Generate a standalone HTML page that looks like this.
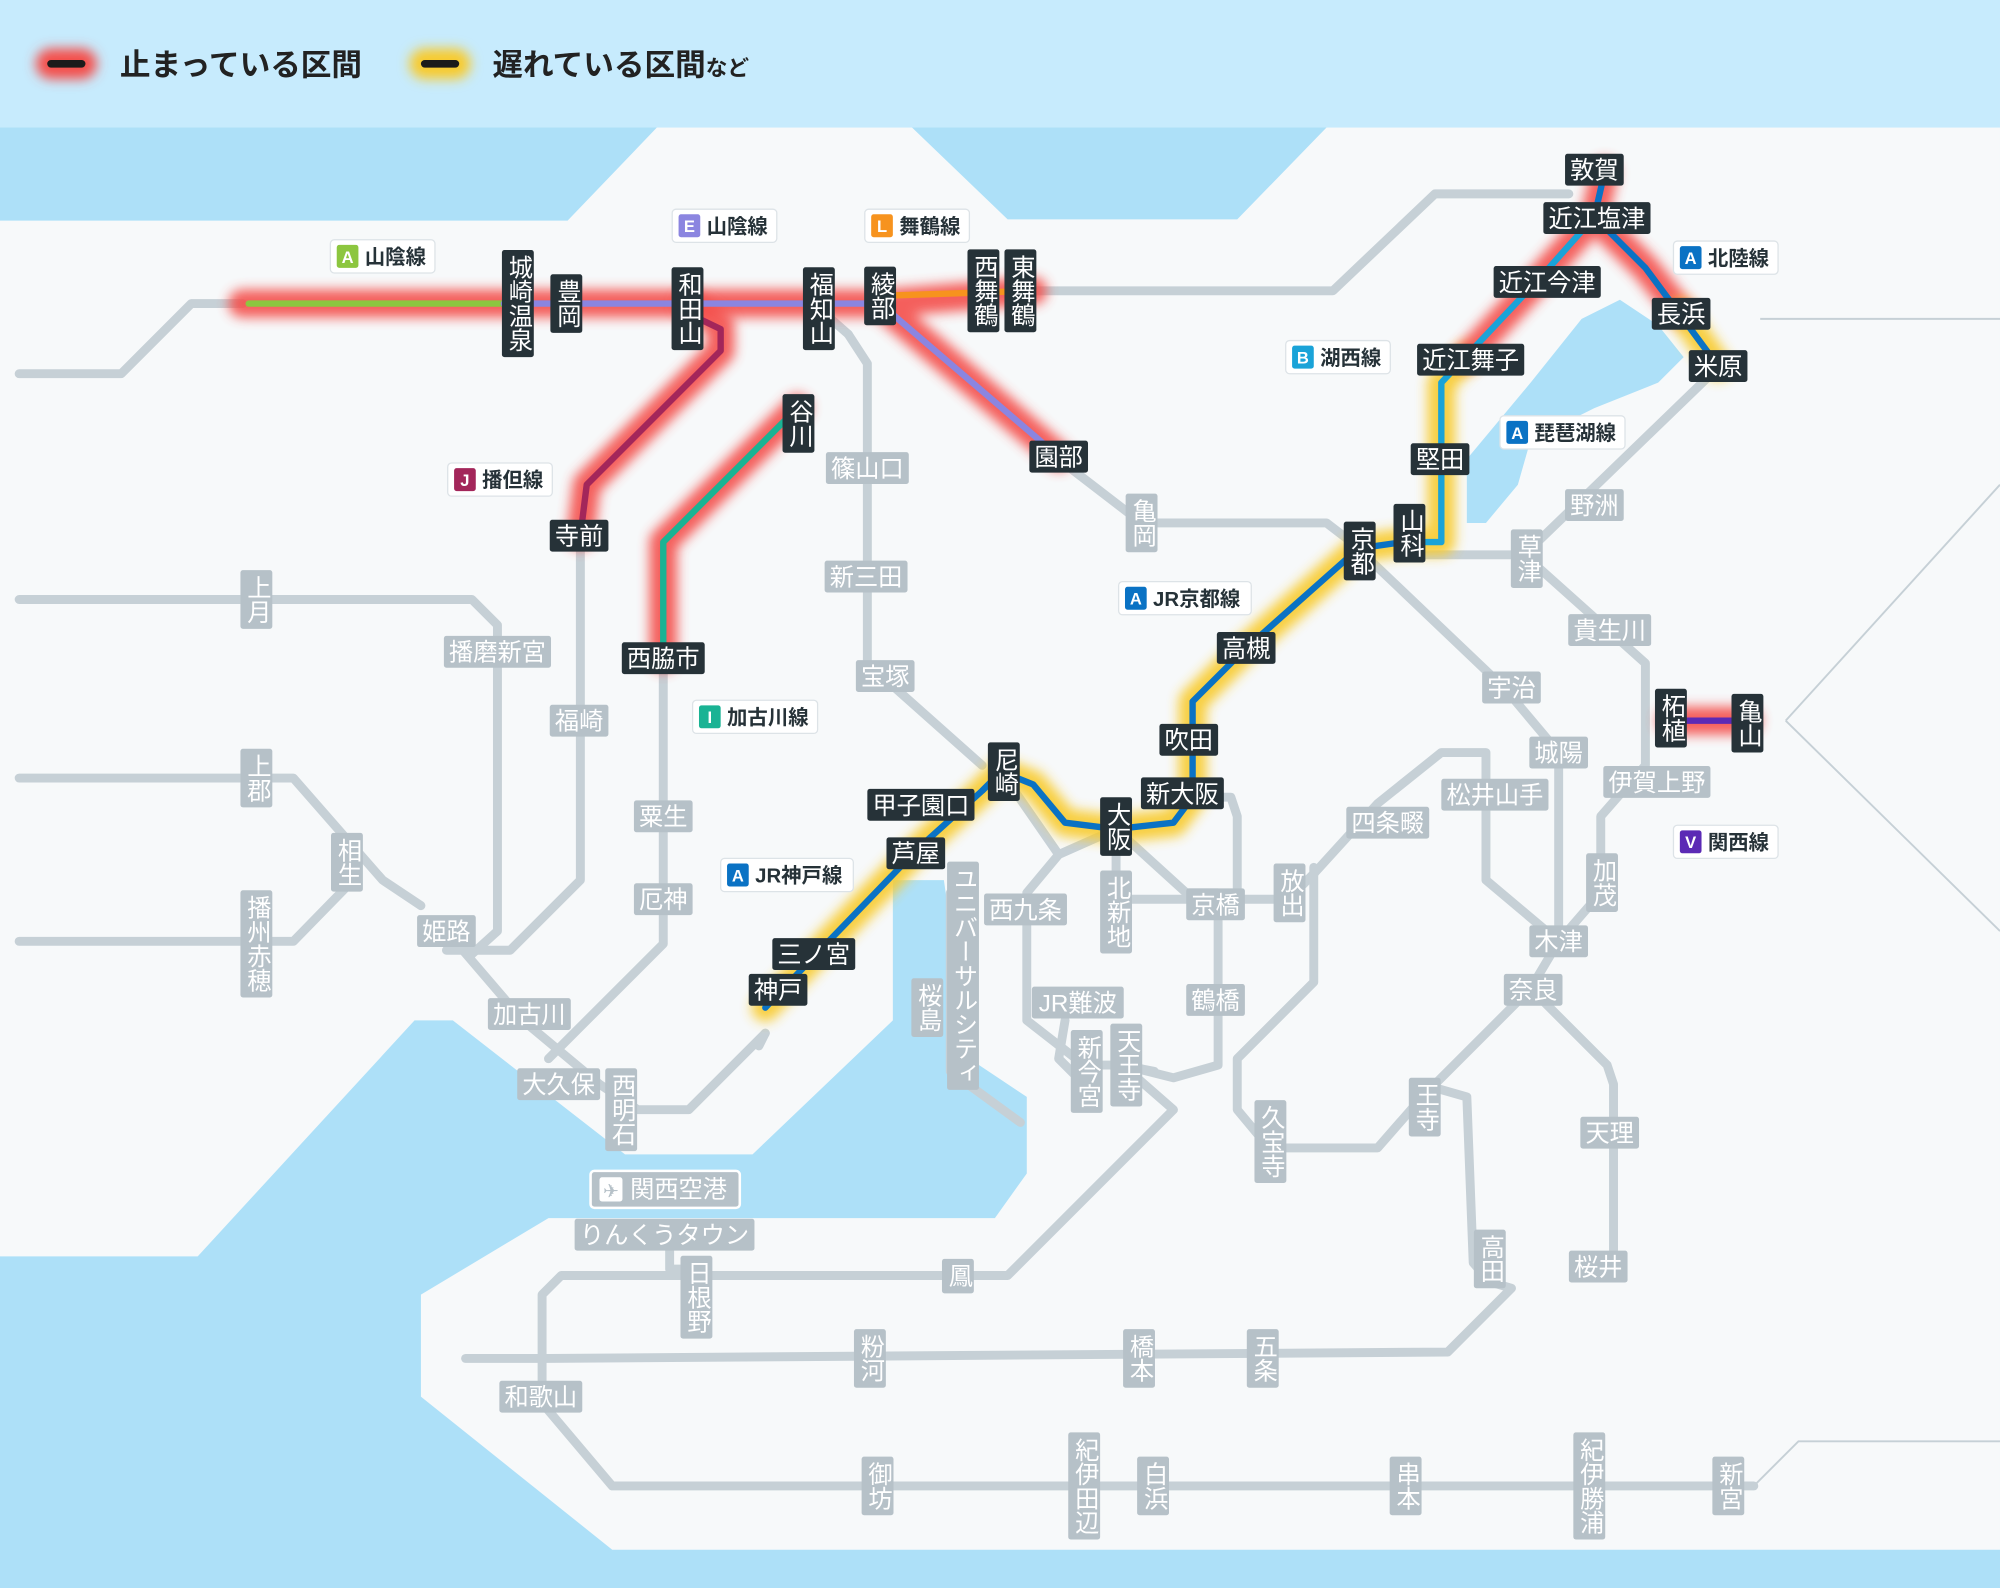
<!DOCTYPE html>
<html><head><meta charset="utf-8">
<style>
html,body{margin:0;padding:0;background:#f7f9fa;}
svg{display:block;}
text{font-family:"Liberation Sans","Noto Sans CJK JP",sans-serif;font-size:19px;fill:#fff;}
.d{fill:#263238;}
.g{fill:#b6c1c8;}
.v{writing-mode:vertical-rl;}
.gl{fill:none;stroke:#c6d0d6;stroke-width:7;stroke-linejoin:round;stroke-linecap:round;}
.th{fill:none;stroke:#c6d0d6;stroke-width:1.5;}
.rg{fill:none;stroke:#f4504c;stroke-width:22;stroke-linejoin:round;stroke-linecap:round;filter:url(#b);opacity:.9}
.yg{fill:none;stroke:#f8cb2e;stroke-width:22;stroke-linejoin:round;stroke-linecap:round;filter:url(#b);opacity:.9}
.cl{fill:none;stroke-width:5;stroke-linejoin:round;stroke-linecap:round;}
.tag rect.p{fill:#fff;stroke:#dde3e7;stroke-width:1;}
.tag text{fill:#263238;font-size:16px;font-weight:bold;}
.tag .l{fill:#fff;font-size:13px;}
</style></head><body>
<svg width="2000" height="1588" viewBox="0 0 1568 1245" xmlns="http://www.w3.org/2000/svg">
<defs><filter id="b" filterUnits="userSpaceOnUse" x="0" y="0" width="1568" height="1245"><feGaussianBlur stdDeviation="4.5"/></filter></defs>
<rect width="1568" height="1245" fill="#ade0f8"/>
<path fill="#f7f9fa" d="M0,173 L445,173 L515,100 L715,100 L790,172 L970,172 L1040,100 L1568,100 L1568,1215 L480,1215 L330,1095 L330,1015 L430,955 L780,955 L805,920 L805,860 L760,830 L740,690 L700,690 L700,800 L590,905 L490,905 L355,800 L325,800 L155,985 L0,985 Z"/>
<path fill="#ade0f8" d="M1150,410 L1150,360 L1175,330 L1200,300 L1240,250 L1270,235 L1300,255 L1320,280 L1300,300 L1250,320 L1200,345 L1190,380 L1165,410 Z"/>
<rect width="1568" height="100" fill="#c7ebfd"/>

<path class="th" d="M1380,250 L1568,250 M1400,565 L1568,380 M1400,565 L1568,730 M1375,1165 L1410,1130 L1568,1130"/>
<path class="gl" d="M15,293 L95,293 L150,238 L190,238"/>
<path class="gl" d="M810,228 L1045,228 L1125,152 L1230,152"/>
<path class="gl" d="M665,262 L680,285 L680,520 L770,600"/>
<path class="gl" d="M830,360 L895,410 L1040,410 L1066,430"/>
<path class="gl" d="M520,516 L520,740 L460,800 L430,830"/>
<path class="gl" d="M455,420 L455,690 L400,745 L350,745"/>
<path class="gl" d="M15,470 L370,470 L390,490 L390,730 L370,748"/>
<path class="gl" d="M15,610 L230,610 L300,690 L330,710 M15,738 L230,738 L272,695"/>
<path class="gl" d="M350,730 L410,800 L470,850 L500,870 L540,870 L600,810"/>
<path class="gl" d="M1075,440 L1180,540 L1222,590 L1222,738 L1200,775 L1260,835 L1265,850 L1265,990"/>
<path class="gl" d="M1110,435 L1195,435 L1290,520 L1290,600 L1255,640 L1255,700 L1222,738"/>
<path class="gl" d="M1195,435 L1345,290"/>
<path class="gl" d="M1200,775 L1115,860 L1080,900 L995,900 L970,870 L970,830 L1030,770 L1030,680"/>
<path class="gl" d="M1115,850 L1150,860 L1155,990 L1168,1005 L1185,1010 L1135,1060 L430,1065 L365,1065"/>
<path class="gl" d="M880,835 L920,870 L790,1000 L440,1000 L425,1015 L425,1100 L480,1165 L1375,1165"/>
<path class="gl" d="M525,965 L525,995 L545,995"/>
<path class="gl" d="M875,650 L930,700 L955,700 L955,835 L920,845 L880,835 L850,835 L805,800 L805,700 L830,670 L875,650"/>
<path class="gl" d="M875,650 L875,705 L1010,705 L1030,685 L1080,630 L1130,590 L1165,590 L1165,690 L1222,738"/>
<path class="gl" d="M935,625 L965,625 L970,640 L970,700"/>
<path class="gl" d="M745,700 L745,840 L800,880"/>
<path class="gl" d="M785,605 L830,670 M600,810 L595,820"/>
<path class="gl" d="M835,800 L830,830 L850,850 M880,835 L905,840"/>
<path class="gl" d="M640,240 L665,262"/>

<path class="rg" d="M190,238 L690,238 L810,228 M690,238 L830,358"/>
<path class="rg" d="M540,238 L565,255 L565,275 L460,380 L455,420"/>
<path class="rg" d="M625,320 L520,425 L520,516"/>
<path class="yg" d="M600,790 L640,748 L720,665 L770,620 L785,605 L810,615 L835,645 L875,650 L920,645 L935,625 L935,550 L975,510 L1065,430 L1100,425 L1130,425 L1130,300 L1150,280"/>
<path class="rg" d="M1150,280 L1210,215 L1250,170 L1258,135 M1250,170 L1290,210 L1318,245"/>
<path class="yg" d="M1318,245 L1347,287"/>
<path class="rg" d="M1310,565 L1370,565"/>

<path class="cl" stroke="#8cc63f" d="M195,238 L395,238"/>
<path class="cl" stroke="#8b85e0" d="M395,238 L690,238 L830,358"/>
<path class="cl" stroke="#f7931e" d="M690,232 L810,228"/>
<path class="cl" stroke="#a3265a" d="M540,246 L565,258 L565,275 L460,380 L455,420"/>
<path class="cl" stroke="#1ab394" d="M625,320 L520,425 L520,516"/>
<path class="cl" stroke="#0a72c4" d="M600,790 L640,748 L720,665 L770,620 L785,605 L810,615 L835,645 L875,650 L920,645 L935,625 L935,550 L975,510 L1065,430 L1100,425"/>
<path class="cl" stroke="#1aa3d8" d="M1100,425 L1130,425 L1130,300 L1210,215 L1250,170"/>
<path class="cl" stroke="#0a72c4" d="M1258,135 L1250,170 L1290,210 L1347,287"/>
<path class="cl" stroke="#5b2ab5" d="M1310,565 L1370,565"/>

<g class="tag">
<rect class="p" x="259" y="188" width="82" height="26" rx="3"/><rect x="264" y="192" width="17" height="18" rx="2" fill="#8cc63f"/><text class="l" x="272.5" y="206" text-anchor="middle">A</text><text x="286" y="207">山陰線</text>
<rect class="p" x="527" y="164" width="82" height="26" rx="3"/><rect x="532" y="168" width="17" height="18" rx="2" fill="#8b85e0"/><text class="l" x="540.5" y="182" text-anchor="middle">E</text><text x="554" y="183">山陰線</text>
<rect class="p" x="678" y="164" width="82" height="26" rx="3"/><rect x="683" y="168" width="17" height="18" rx="2" fill="#f7931e"/><text class="l" x="691.5" y="182" text-anchor="middle">L</text><text x="705" y="183">舞鶴線</text>
<rect class="p" x="351" y="363" width="82" height="26" rx="3"/><rect x="356" y="367" width="17" height="18" rx="2" fill="#a3265a"/><text class="l" x="364.5" y="381" text-anchor="middle">J</text><text x="378" y="382">播但線</text>
<rect class="p" x="543" y="549" width="98" height="26" rx="3"/><rect x="548" y="553" width="17" height="18" rx="2" fill="#1ab394"/><text class="l" x="556.5" y="567" text-anchor="middle">I</text><text x="570" y="568">加古川線</text>
<rect class="p" x="565" y="673" width="104" height="26" rx="3"/><rect x="570" y="677" width="17" height="18" rx="2" fill="#0a72c4"/><text class="l" x="578.5" y="691" text-anchor="middle">A</text><text x="592" y="692">JR神戸線</text>
<rect class="p" x="877" y="456" width="104" height="26" rx="3"/><rect x="882" y="460" width="17" height="18" rx="2" fill="#0a72c4"/><text class="l" x="890.5" y="474" text-anchor="middle">A</text><text x="904" y="475">JR京都線</text>
<rect class="p" x="1008" y="267" width="82" height="26" rx="3"/><rect x="1013" y="271" width="17" height="18" rx="2" fill="#1aa3d8"/><text class="l" x="1021.5" y="285" text-anchor="middle">B</text><text x="1035" y="286">湖西線</text>
<rect class="p" x="1176" y="326" width="98" height="26" rx="3"/><rect x="1181" y="330" width="17" height="18" rx="2" fill="#0a72c4"/><text class="l" x="1189.5" y="344" text-anchor="middle">A</text><text x="1203" y="345">琵琶湖線</text>
<rect class="p" x="1312" y="189" width="82" height="26" rx="3"/><rect x="1317" y="193" width="17" height="18" rx="2" fill="#0a72c4"/><text class="l" x="1325.5" y="207" text-anchor="middle">A</text><text x="1339" y="208">北陸線</text>
<rect class="p" x="1312" y="647" width="82" height="26" rx="3"/><rect x="1317" y="651" width="17" height="18" rx="2" fill="#5b2ab5"/><text class="l" x="1325.5" y="665" text-anchor="middle">V</text><text x="1339" y="666">関西線</text>
</g>

<g>
<rect class="d" x="393.5" y="196" width="25" height="84" rx="2"/><text class="v" x="406" y="238" text-anchor="middle">城崎温泉</text>
<rect class="d" x="431.5" y="215" width="25" height="46" rx="2"/><text class="v" x="444" y="238" text-anchor="middle">豊岡</text>
<rect class="d" x="526.5" y="209.5" width="25" height="65" rx="2"/><text class="v" x="539" y="242" text-anchor="middle">和田山</text>
<rect class="d" x="629.5" y="209.5" width="25" height="65" rx="2"/><text class="v" x="642" y="242" text-anchor="middle">福知山</text>
<rect class="d" x="677.5" y="209" width="25" height="46" rx="2"/><text class="v" x="690" y="232" text-anchor="middle">綾部</text>
<rect class="d" x="758.5" y="195.5" width="25" height="65" rx="2"/><text class="v" x="771" y="228" text-anchor="middle">西舞鶴</text>
<rect class="d" x="787.5" y="195.5" width="25" height="65" rx="2"/><text class="v" x="800" y="228" text-anchor="middle">東舞鶴</text>
<rect class="d" x="613.5" y="309" width="25" height="46" rx="2"/><text class="v" x="626" y="332" text-anchor="middle">谷川</text>
<rect class="d" x="774.5" y="582" width="25" height="46" rx="2"/><text class="v" x="787" y="605" text-anchor="middle">尼崎</text>
<rect class="d" x="862.5" y="625" width="25" height="46" rx="2"/><text class="v" x="875" y="648" text-anchor="middle">大阪</text>
<rect class="d" x="1053.5" y="409" width="25" height="46" rx="2"/><text class="v" x="1066" y="432" text-anchor="middle">京都</text>
<rect class="d" x="1092.5" y="395" width="25" height="46" rx="2"/><text class="v" x="1105" y="418" text-anchor="middle">山科</text>
<rect class="d" x="1297.5" y="540" width="25" height="46" rx="2"/><text class="v" x="1310" y="563" text-anchor="middle">柘植</text>
<rect class="d" x="1357.5" y="544" width="25" height="46" rx="2"/><text class="v" x="1370" y="567" text-anchor="middle">亀山</text>
</g>
<g text-anchor="middle">
<rect class="d" x="807" y="345.5" width="46" height="25" rx="2"/><text x="830" y="365">園部</text>
<rect class="d" x="431" y="407.5" width="46" height="25" rx="2"/><text x="454" y="427">寺前</text>
<rect class="d" x="487.5" y="503.5" width="65" height="25" rx="2"/><text x="520" y="523">西脇市</text>
<rect class="d" x="680" y="618.5" width="84" height="25" rx="2"/><text x="722" y="638">甲子園口</text>
<rect class="d" x="695" y="656.5" width="46" height="25" rx="2"/><text x="718" y="676">芦屋</text>
<rect class="d" x="605.5" y="735.5" width="65" height="25" rx="2"/><text x="638" y="755">三ノ宮</text>
<rect class="d" x="587" y="763.5" width="46" height="25" rx="2"/><text x="610" y="783">神戸</text>
<rect class="d" x="894.5" y="609.5" width="65" height="25" rx="2"/><text x="927" y="629">新大阪</text>
<rect class="d" x="909" y="567.5" width="46" height="25" rx="2"/><text x="932" y="587">吹田</text>
<rect class="d" x="954" y="495.5" width="46" height="25" rx="2"/><text x="977" y="515">高槻</text>
<rect class="d" x="1106" y="347.5" width="46" height="25" rx="2"/><text x="1129" y="367">堅田</text>
<rect class="d" x="1111" y="269.5" width="84" height="25" rx="2"/><text x="1153" y="289">近江舞子</text>
<rect class="d" x="1171" y="208.5" width="84" height="25" rx="2"/><text x="1213" y="228">近江今津</text>
<rect class="d" x="1210" y="158.5" width="84" height="25" rx="2"/><text x="1252" y="178">近江塩津</text>
<rect class="d" x="1227" y="120.5" width="46" height="25" rx="2"/><text x="1250" y="140">敦賀</text>
<rect class="d" x="1295" y="233.5" width="46" height="25" rx="2"/><text x="1318" y="253">長浜</text>
<rect class="d" x="1324" y="274.5" width="46" height="25" rx="2"/><text x="1347" y="294">米原</text>
</g>
<g text-anchor="middle">
<rect class="g" x="647.5" y="354.5" width="65" height="25" rx="2"/><text x="680" y="374">篠山口</text>
<rect class="g" x="646.5" y="439.5" width="65" height="25" rx="2"/><text x="679" y="459">新三田</text>
<rect class="g" x="671" y="517.5" width="46" height="25" rx="2"/><text x="694" y="537">宝塚</text>
<rect class="g" x="348" y="498.5" width="84" height="25" rx="2"/><text x="390" y="518">播磨新宮</text>
<rect class="g" x="431" y="552.5" width="46" height="25" rx="2"/><text x="454" y="572">福崎</text>
<rect class="g" x="327" y="717.5" width="46" height="25" rx="2"/><text x="350" y="737">姫路</text>
<rect class="g" x="497" y="627.5" width="46" height="25" rx="2"/><text x="520" y="647">粟生</text>
<rect class="g" x="497" y="692.5" width="46" height="25" rx="2"/><text x="520" y="712">厄神</text>
<rect class="g" x="382.5" y="782.5" width="65" height="25" rx="2"/><text x="415" y="802">加古川</text>
<rect class="g" x="405.5" y="837.5" width="65" height="25" rx="2"/><text x="438" y="857">大久保</text>
<rect class="g" x="450.5" y="955.5" width="141" height="25" rx="2"/><text x="521" y="975">りんくうタウン</text>
<rect class="g" x="391.5" y="1082.5" width="65" height="25" rx="2"/><text x="424" y="1102">和歌山</text>
<rect class="g" x="771.5" y="700.5" width="65" height="25" rx="2"/><text x="804" y="720">西九条</text>
<rect class="g" x="930" y="696.5" width="46" height="25" rx="2"/><text x="953" y="716">京橋</text>
<rect class="g" x="930" y="771.5" width="46" height="25" rx="2"/><text x="953" y="791">鶴橋</text>
<rect class="g" x="809" y="773.5" width="72" height="25" rx="2"/><text x="845" y="793">JR難波</text>
<rect class="g" x="1055.5" y="632.5" width="65" height="25" rx="2"/><text x="1088" y="652">四条畷</text>
<rect class="g" x="1130" y="610.5" width="84" height="25" rx="2"/><text x="1172" y="630">松井山手</text>
<rect class="g" x="1199" y="577.5" width="46" height="25" rx="2"/><text x="1222" y="597">城陽</text>
<rect class="g" x="1162" y="526.5" width="46" height="25" rx="2"/><text x="1185" y="546">宇治</text>
<rect class="g" x="1199" y="725.5" width="46" height="25" rx="2"/><text x="1222" y="745">木津</text>
<rect class="g" x="1179" y="763.5" width="46" height="25" rx="2"/><text x="1202" y="783">奈良</text>
<rect class="g" x="1239" y="875.5" width="46" height="25" rx="2"/><text x="1262" y="895">天理</text>
<rect class="g" x="1230" y="980.5" width="46" height="25" rx="2"/><text x="1253" y="1000">桜井</text>
<rect class="g" x="1257" y="600.5" width="84" height="25" rx="2"/><text x="1299" y="620">伊賀上野</text>
<rect class="g" x="1229.5" y="481.5" width="65" height="25" rx="2"/><text x="1262" y="501">貴生川</text>
<rect class="g" x="1227" y="383.5" width="46" height="25" rx="2"/><text x="1250" y="403">野洲</text>
</g>
<g>
<rect class="g" x="882.5" y="387" width="25" height="46" rx="2"/><text class="v" x="895" y="410" text-anchor="middle">亀岡</text>
<rect class="g" x="188.5" y="447" width="25" height="46" rx="2"/><text class="v" x="201" y="470" text-anchor="middle">上月</text>
<rect class="g" x="188.5" y="587" width="25" height="46" rx="2"/><text class="v" x="201" y="610" text-anchor="middle">上郡</text>
<rect class="g" x="259.5" y="653" width="25" height="46" rx="2"/><text class="v" x="272" y="676" text-anchor="middle">相生</text>
<rect class="g" x="188.5" y="698" width="25" height="84" rx="2"/><text class="v" x="201" y="740" text-anchor="middle">播州赤穂</text>
<rect class="g" x="474.5" y="837.5" width="25" height="65" rx="2"/><text class="v" x="487" y="870" text-anchor="middle">西明石</text>
<rect class="g" x="533.5" y="984.5" width="25" height="65" rx="2"/><text class="v" x="546" y="1017" text-anchor="middle">日根野</text>
<rect class="g" x="738.5" y="987" width="25" height="27" rx="2"/><text class="v" x="751" y="1000" text-anchor="middle">鳳</text>
<rect class="g" x="669.5" y="1042" width="25" height="46" rx="2"/><text class="v" x="682" y="1065" text-anchor="middle">粉河</text>
<rect class="g" x="880.5" y="1042" width="25" height="46" rx="2"/><text class="v" x="893" y="1065" text-anchor="middle">橋本</text>
<rect class="g" x="977.5" y="1042" width="25" height="46" rx="2"/><text class="v" x="990" y="1065" text-anchor="middle">五条</text>
<rect class="g" x="675.5" y="1142" width="25" height="46" rx="2"/><text class="v" x="688" y="1165" text-anchor="middle">御坊</text>
<rect class="g" x="837.5" y="1123" width="25" height="84" rx="2"/><text class="v" x="850" y="1165" text-anchor="middle">紀伊田辺</text>
<rect class="g" x="891.5" y="1142" width="25" height="46" rx="2"/><text class="v" x="904" y="1165" text-anchor="middle">白浜</text>
<rect class="g" x="1089.5" y="1142" width="25" height="46" rx="2"/><text class="v" x="1102" y="1165" text-anchor="middle">串本</text>
<rect class="g" x="1233.5" y="1123" width="25" height="84" rx="2"/><text class="v" x="1246" y="1165" text-anchor="middle">紀伊勝浦</text>
<rect class="g" x="1342.5" y="1142" width="25" height="46" rx="2"/><text class="v" x="1355" y="1165" text-anchor="middle">新宮</text>
<rect class="g" x="862.5" y="682.5" width="25" height="65" rx="2"/><text class="v" x="875" y="715" text-anchor="middle">北新地</text>
<rect class="g" x="998.5" y="677" width="25" height="46" rx="2"/><text class="v" x="1011" y="700" text-anchor="middle">放出</text>
<rect class="g" x="839.5" y="807.5" width="25" height="65" rx="2"/><text class="v" x="852" y="840" text-anchor="middle">新今宮</text>
<rect class="g" x="870.5" y="802.5" width="25" height="65" rx="2"/><text class="v" x="883" y="835" text-anchor="middle">天王寺</text>
<rect class="g" x="983.5" y="862.5" width="25" height="65" rx="2"/><text class="v" x="996" y="895" text-anchor="middle">久宝寺</text>
<rect class="g" x="1104.5" y="845" width="25" height="46" rx="2"/><text class="v" x="1117" y="868" text-anchor="middle">王寺</text>
<rect class="g" x="1155.5" y="964" width="25" height="46" rx="2"/><text class="v" x="1168" y="987" text-anchor="middle">高田</text>
<rect class="g" x="1243.5" y="669" width="25" height="46" rx="2"/><text class="v" x="1256" y="692" text-anchor="middle">加茂</text>
<rect class="g" x="1184.5" y="415" width="25" height="46" rx="2"/><text class="v" x="1197" y="438" text-anchor="middle">草津</text>
<rect class="g" x="742.5" y="675.5" width="25" height="179" rx="2"/><text class="v" x="755" y="765" text-anchor="middle">ユニバーサルシティ</text>
<rect class="g" x="714.5" y="767" width="25" height="46" rx="2"/><text class="v" x="727" y="790" text-anchor="middle">桜島</text>
</g>
<rect x="463" y="918" width="117" height="29" rx="3" fill="#b6c1c8" stroke="#fff" stroke-width="2"/>
<rect x="470" y="923" width="18" height="19" rx="2" fill="#fff"/>
<text x="479" y="939" text-anchor="middle" style="fill:#b6c1c8;font-size:15px">✈</text>
<text x="532" y="939" text-anchor="middle">関西空港</text>

<line x1="40" y1="50" x2="64" y2="50" stroke="#f4504c" stroke-width="24" stroke-linecap="round" filter="url(#b)"/>
<line x1="40" y1="50" x2="64" y2="50" stroke="#1b1b1b" stroke-width="6" stroke-linecap="round"/>
<text x="94" y="59" style="fill:#222;font-size:24px;font-weight:bold">止まっている区間</text>
<line x1="333" y1="50" x2="357" y2="50" stroke="#f8cb2e" stroke-width="24" stroke-linecap="round" filter="url(#b)"/>
<line x1="333" y1="50" x2="357" y2="50" stroke="#1b1b1b" stroke-width="6" stroke-linecap="round"/>
<text x="386" y="59" style="fill:#222;font-size:24px;font-weight:bold">遅れている区間<tspan style="font-size:17px">など</tspan></text>
</svg>
</body></html>
